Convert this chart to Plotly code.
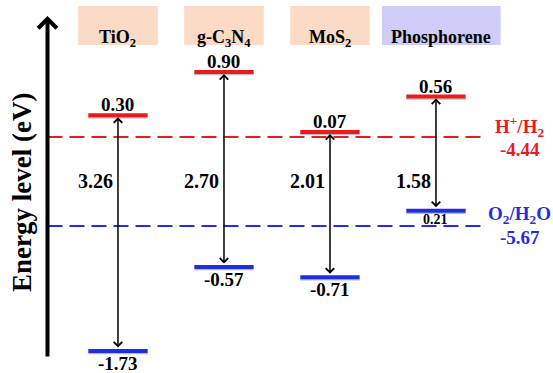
import plotly.graph_objects as go

# ---- data -------------------------------------------------------------
materials = ["TiO<sub>2</sub>", "g-C<sub>3</sub>N<sub>4</sub>", "MoS<sub>2</sub>", "Phosphorene"]
# conduction band edge relative to the H+/H2 level (eV, positive = above)
cb_vs_h2 = [0.30, 0.90, 0.07, 0.56]
# valence band edge relative to the O2/H2O level (eV, positive = above)
vb_vs_o2 = [-1.73, -0.57, -0.71, 0.21]
# redox potentials (eV vs vacuum)
E_H2 = -4.44
E_O2 = -5.67
redox_names = ["H<sup>+</sup>/H<sub>2</sub>", "O<sub>2</sub>/H<sub>2</sub>O"]

# ---- styling ----------------------------------------------------------
W, H = 553, 373
FONT = "Liberation Serif"
RED = "#ec1a1d"
BLUE = "#1f2fe0"
BOX_COLORS = ["#fbdac6", "#fbdac6", "#fbdac6", "#cfcdf7"]
BOX_HALF = [0.375, 0.375, 0.375, 0.56]
BOX_SHIFT = [0.0, 0.0, 0.0, 0.05]
BOX_TOP, BOX_BOTTOM = 6, 45          # header strip, px from top
E_TOP, E_BOTTOM = -2.544, -7.705
X_RANGE = [-1.113, 4.104]
X_AXIS = -0.665
X_DASH_END = 3.47
X_REDOX_LABEL = 3.79
LEVEL_HALF = 0.28
PX_PER_EV = H / (E_TOP - E_BOTTOM)

cb = [E_H2 + d for d in cb_vs_h2]
vb = [E_O2 + d for d in vb_vs_o2]
gaps = [round(c - v, 2) for c, v in zip(cb, vb)]

fig = go.Figure()

# redox reference lines
for e, col in [(E_H2, RED), (E_O2, BLUE)]:
    fig.add_trace(go.Scatter(x=[X_AXIS, X_DASH_END], y=[e, e], mode="lines",
                             line=dict(color=col, width=2, dash="15px,7px"),
                             hoverinfo="skip", showlegend=False))

# band edges with a soft grey shadow underneath
shadow = 2.5 / PX_PER_EV
for i in range(len(materials)):
    for e, col in [(cb[i], RED), (vb[i], BLUE)]:
        xs = [i - LEVEL_HALF, i + LEVEL_HALF]
        fig.add_trace(go.Scatter(x=xs, y=[e - shadow] * 2, mode="lines",
                                 line=dict(color="#bcbcbc", width=1.5),
                                 hoverinfo="skip", showlegend=False))
        fig.add_trace(go.Scatter(x=xs, y=[e, e], mode="lines",
                                 line=dict(color=col, width=4),
                                 hoverinfo="skip", showlegend=False))

annotations = []
shapes = []
bold = dict(family=FONT, color="black", size=19, weight="bold")

for i, name in enumerate(materials):
    xc = i + BOX_SHIFT[i]
    shapes.append(dict(type="rect", xref="x", yref="paper",
                       x0=xc - BOX_HALF[i], x1=xc + BOX_HALF[i],
                       y0=1 - BOX_BOTTOM / H, y1=1 - BOX_TOP / H,
                       fillcolor=BOX_COLORS[i], line=dict(width=0), layer="below"))
    annotations.append(dict(x=xc, y=1 - ((BOX_TOP + BOX_BOTTOM) / 2 - 1) / H, xref="x",
                            yref="paper", text=name, showarrow=False,
                            font=dict(bold, size=18)))
    # band edge values
    annotations.append(dict(x=i, y=cb[i], xref="x", yref="y", text=f"{cb_vs_h2[i]:.2f}",
                            showarrow=False, yshift=10.5, font=bold))
    # a valence edge sitting just above O2/H2O gets a smaller, tighter label
    tight = 0 < vb_vs_o2[i] < 0.4
    annotations.append(dict(x=i, y=vb[i], xref="x", yref="y", text=f"{vb_vs_o2[i]:.2f}",
                            showarrow=False, yshift=-8.5 if tight else -12.5,
                            font=dict(bold, size=14) if tight else bold))
    # band gap double arrow
    annotations.append(dict(x=i, y=cb[i], ax=i, ay=vb[i], xref="x", yref="y",
                            axref="x", ayref="y", text="", showarrow=True,
                            arrowside="end+start", arrowhead=4, startarrowhead=4,
                            arrowsize=1.1, startarrowsize=1.1, arrowwidth=1.5,
                            arrowcolor="black", standoff=2, startstandoff=2))
    annotations.append(dict(x=i, y=(E_H2 + E_O2) / 2, xref="x", yref="y",
                            text=f"{gaps[i]:.2f}", showarrow=False, xanchor="right",
                            xshift=-3, font=dict(bold, size=20)))

# redox labels
for e, name, col in [(E_H2, redox_names[0], RED), (E_O2, redox_names[1], BLUE)]:
    annotations.append(dict(x=X_REDOX_LABEL, y=e, xref="x", yref="y", text=name,
                            showarrow=False, yshift=11, font=dict(bold, color=col)))
    annotations.append(dict(x=X_REDOX_LABEL, y=e, xref="x", yref="y", text=f"{e:.2f}",
                            showarrow=False, yshift=-12, font=dict(bold, color=col)))

# energy axis arrow and its title
annotations.append(dict(x=X_AXIS, y=1 - 16 / H, xref="x", yref="paper", ax=0, ay=342,
                        text="", showarrow=True, arrowhead=4, arrowsize=0.9,
                        arrowwidth=4, arrowcolor="black"))
annotations.append(dict(x=22 / W, y=1 - 193 / H, xref="paper", yref="paper",
                        xanchor="center", yanchor="middle",
                        text="Energy level (eV)", textangle=-90, showarrow=False,
                        font=dict(bold, size=27)))

fig.update_layout(
    width=W, height=H, autosize=False,
    margin=dict(l=0, r=0, t=0, b=0, pad=0),
    paper_bgcolor="white", plot_bgcolor="white",
    xaxis=dict(range=X_RANGE, visible=False, fixedrange=True),
    yaxis=dict(range=[E_BOTTOM, E_TOP], visible=False, fixedrange=True),
    shapes=shapes, annotations=annotations, showlegend=False,
)

fig.write_html("out.html")
